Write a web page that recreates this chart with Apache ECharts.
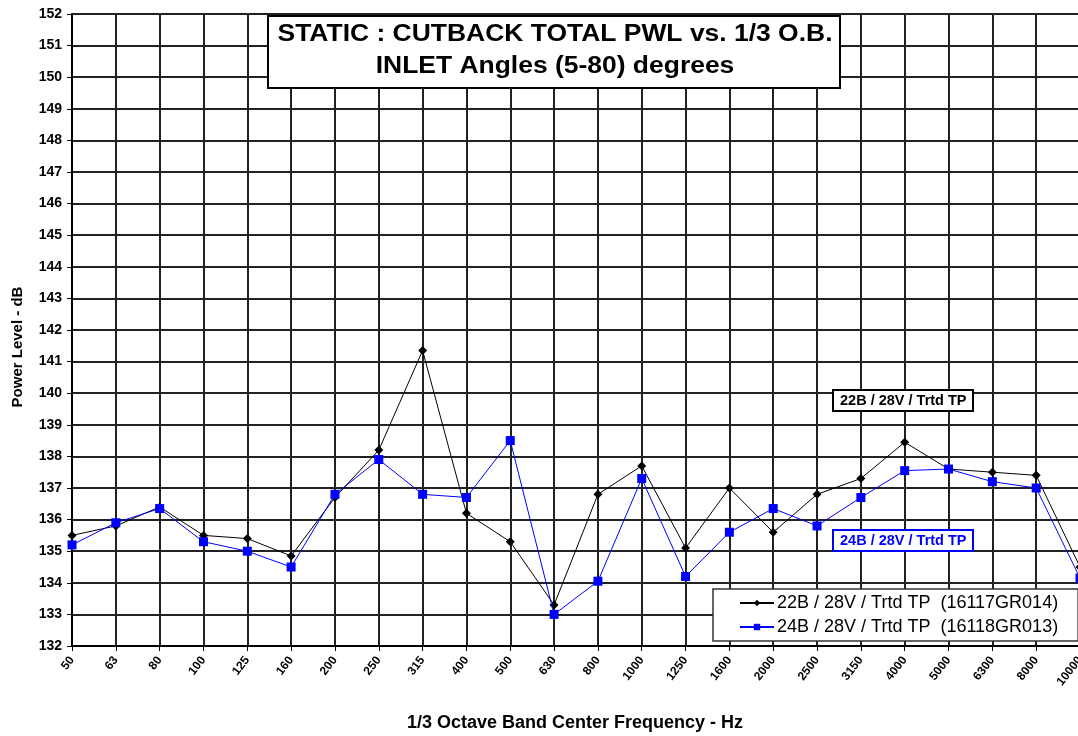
<!DOCTYPE html>
<html><head><meta charset="utf-8">
<script src="https://cdn.jsdelivr.net/npm/echarts@6/dist/echarts.min.js"></script>
<style>html,body{margin:0;padding:0;background:#fff}#c{width:1078px;height:736px}</style>
</head><body><div id="c"></div>
<script>
const categories = ['50','63','80','100','125','160','200','250','315','400','500','630','800','1000','1250','1600','2000','2500','3150','4000','5000','6300','8000','10000'];
const series22B = [135.5,135.8,136.4,135.5,135.4,134.85,136.7,138.2,141.35,136.2,135.3,133.3,136.8,137.7,135.1,137.0,135.6,136.8,137.3,138.45,137.6,137.5,137.4,134.5];
const series24B = [135.2,135.9,136.35,135.3,135.0,134.5,136.8,137.9,136.8,136.7,138.5,133.0,134.05,137.3,134.2,135.6,136.35,135.8,136.7,137.55,137.6,137.2,137.0,134.15];
const name22B = '22B / 28V / Trtd TP  (16117GR014)';
const name24B = '24B / 28V / Trtd TP  (16118GR013)';
const titleText = 'STATIC : CUTBACK TOTAL PWL vs. 1/3 O.B.\nINLET Angles (5-80) degrees';
const F = '"Liberation Sans", Arial, sans-serif';
const chart = echarts.init(document.getElementById('c'));
chart.setOption({
  animation:false,
  backgroundColor:'#fff',
  textStyle:{fontFamily:F},
  grid:{left:72,top:14,width:1008,height:632,containLabel:false,outerBoundsMode:'none'},
  title:[
    {text:'22B / 28V / Trtd TP',left:833,top:390,backgroundColor:'#fff',borderColor:'#000',borderWidth:2,padding:[3,7,3,7],
     textStyle:{fontFamily:F,fontWeight:'bold',fontSize:14.5,color:'#000'}},
    {text:'24B / 28V / Trtd TP',left:833,top:530,backgroundColor:'#fff',borderColor:'#0000ff',borderWidth:2,padding:[3,7,3,7],
     textStyle:{fontFamily:F,fontWeight:'bold',fontSize:14.5,color:'#0000ff'}}
  ],
  graphic:[
    {type:'rect',shape:{x:268,y:16,width:572,height:72},style:{fill:'#fff',stroke:'#000',lineWidth:2},z:100},
    {type:'text',x:555,y:51,scaleX:1.15,style:{text:titleText,fill:'#000',font:'bold 23px '+F,align:'center',verticalAlign:'middle',lineHeight:32},z:101},
    {type:'text',x:18,y:347,rotation:Math.PI/2,style:{text:'Power Level - dB',fill:'#000',font:'bold 15px '+F,align:'center',verticalAlign:'middle'},z:101}
  ],
  legend:{orient:'vertical',left:713,top:589,itemGap:6,itemWidth:34,itemHeight:8,
    backgroundColor:'#fff',borderColor:'#333',borderWidth:1.5,padding:[5,20,5,26],
    textStyle:{fontFamily:F,fontSize:18,color:'#000',padding:[0,0,0,-2]},
    data:[name22B,name24B]},
  xAxis:{type:'category',data:categories,boundaryGap:false,
    name:'1/3 Octave Band Center Frequency - Hz',nameLocation:'middle',nameGap:68,
    nameTextStyle:{fontFamily:F,fontWeight:'bold',fontSize:18,color:'#000',padding:[0,0,0,-2]},
    axisLine:{lineStyle:{color:'#000',width:2}},
    axisTick:{show:true,length:5,lineStyle:{color:'#000'},alignWithLabel:true},
    axisLabel:{rotate:52,fontFamily:F,fontWeight:'bold',fontSize:12,color:'#000',margin:12,interval:0},
    splitLine:{show:true,lineStyle:{color:'#222',width:2}}},
  yAxis:{type:'value',min:132,max:152,interval:1,
    axisLine:{show:true,lineStyle:{color:'#000',width:2}},
    axisTick:{show:true,length:5,lineStyle:{color:'#000'}},
    axisLabel:{fontFamily:F,fontWeight:'bold',fontSize:14,color:'#000',margin:10},
    splitLine:{show:true,lineStyle:{color:'#222',width:2}}},
  series:[
    {name:name22B,type:'line',data:series22B,symbol:'diamond',symbolSize:9,
     lineStyle:{color:'#000',width:1},itemStyle:{color:'#000'},z:3},
    {name:name24B,type:'line',data:series24B,symbol:'rect',symbolSize:9,
     lineStyle:{color:'#0000ff',width:1},itemStyle:{color:'#0000ff'},z:4}
  ]
});
</script></body></html>
